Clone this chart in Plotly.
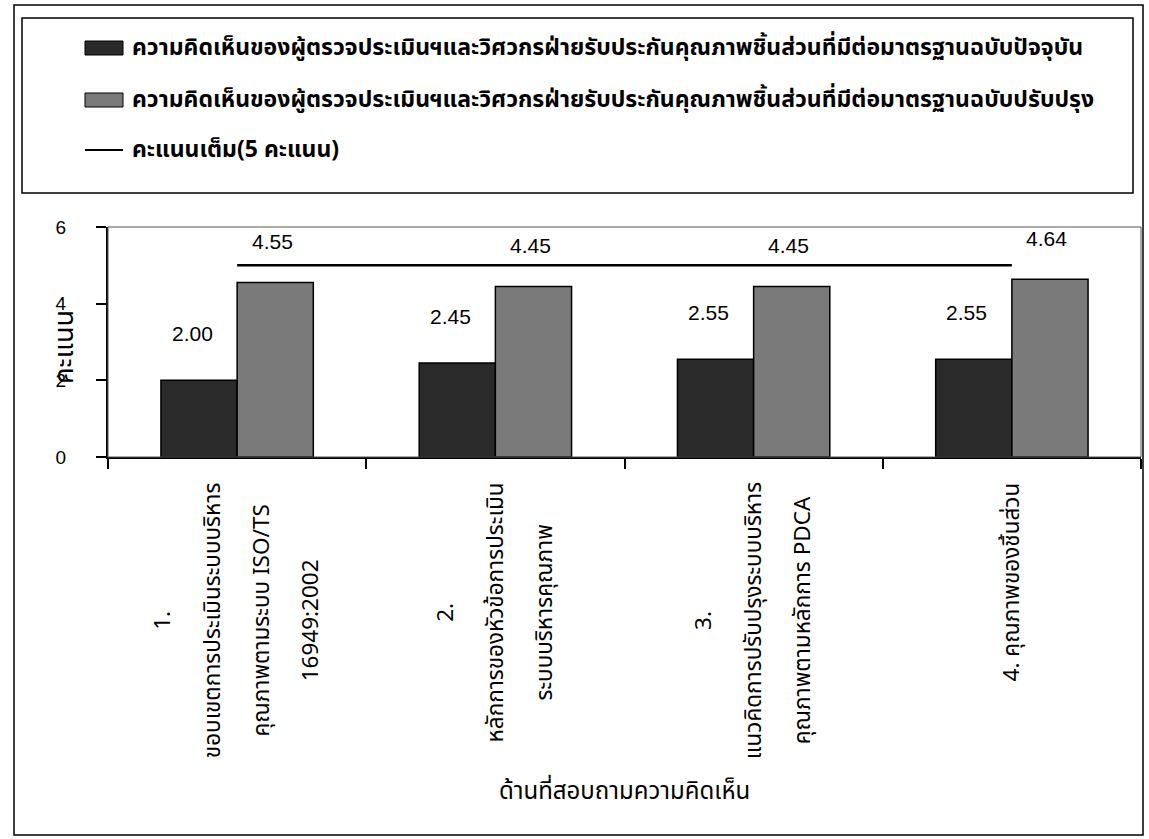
import plotly.graph_objects as go

# ---------------- data ----------------
label_lines = [
    ["1.", "ขอบเขตการประเมินระบบบริหาร", "คุณภาพตามระบบ ISO/TS", "16949:2002"],
    ["2.", "หลักการของหัวข้อการประเมิน", "ระบบบริหารคุณภาพ"],
    ["3.", "แนวคิดการปรับปรุงระบบบริหาร", "คุณภาพตามหลักการ PDCA"],
    ["4. คุณภาพของชิ้นส่วน"],
]
categories = ["<br>".join(l) for l in label_lines]

current_scores = [2.00, 2.45, 2.55, 2.55]
revised_scores = [4.55, 4.45, 4.45, 4.64]
full_score = [5, 5, 5, 5]

name_current = "ความคิดเห็นของผู้ตรวจประเมินฯและวิศวกรฝ่ายรับประกันคุณภาพชิ้นส่วนที่มีต่อมาตรฐานฉบับปัจจุบัน"
name_revised = "ความคิดเห็นของผู้ตรวจประเมินฯและวิศวกรฝ่ายรับประกันคุณภาพชิ้นส่วนที่มีต่อมาตรฐานฉบับปรับปรุง"
name_full = "คะแนนเต็ม(5 คะแนน)"
x_title = "ด้านที่สอบถามความคิดเห็น"
y_title = "คะแนน"
y_ticks = [0, 2, 4, 6]

# ---------------- styling ----------------
W, H = 1149, 839
PL, PR, PT, PB = 108, 1141, 227, 457   # plot area in pixels
DARK = "#2a2a2a"
GRAY = "#7a7a7a"
THAI = "Noto Sans Thai, Tahoma, DejaVu Sans, sans-serif"
NUM = "Liberation Sans, Arial, sans-serif"


def px_x(px):
    return (px - PL) / (PR - PL)


def px_y(py):
    return (PB - py) / (PB - PT)


def spaced(text, size):
    # wrap each line in a span so the annotation's (larger) base font sets line spacing
    return "<br>".join(f"<span style='font-size:{size}px'>{t}</span>" for t in text.split("<br>"))


fig = go.Figure()
fig.add_trace(go.Bar(
    x=categories, y=current_scores, name=name_current,
    marker=dict(color=DARK, line=dict(color="black", width=1.5)),
    showlegend=False,
))
fig.add_trace(go.Bar(
    x=categories, y=revised_scores, name=name_revised,
    marker=dict(color=GRAY, line=dict(color="black", width=1.5)),
    showlegend=False,
))
fig.add_trace(go.Scatter(
    x=categories, y=full_score, name=name_full, mode="lines",
    line=dict(color="black", width=2.5), showlegend=False,
))

annotations = []
# value labels
for c, v in zip(categories, current_scores):
    annotations.append(dict(x=c, y=v, xref="x", yref="y", text=f"{v:.2f}",
                            showarrow=False, yshift=47, xshift=-45,
                            xanchor="center", yanchor="middle",
                            font=dict(family=NUM, size=21, color="black")))
for c, v in zip(categories, revised_scores):
    annotations.append(dict(x=c, y=v, xref="x", yref="y", text=f"{v:.2f}",
                            showarrow=False, yshift=41, xshift=35,
                            xanchor="center", yanchor="middle",
                            font=dict(family=NUM, size=21, color="black")))
# category labels (rotated)
for c in categories:
    annotations.append(dict(x=c, xref="x", y=px_y(480), yref="paper",
                            text=spaced(c, 22.5), textangle=-90, showarrow=False,
                            xanchor="center", yanchor="top", align="center",
                            font=dict(family=THAI, size=38, color="black")))
# axis titles
annotations.append(dict(x=0.5, xref="paper", y=px_y(792), yref="paper",
                        text=x_title, showarrow=False,
                        xanchor="center", yanchor="middle",
                        font=dict(family=THAI, size=24, color="black")))
annotations.append(dict(x=px_x(64), xref="paper", y=px_y(347), yref="paper",
                        text=y_title, textangle=-90, showarrow=False,
                        xanchor="center", yanchor="middle",
                        font=dict(family=THAI, size=27, color="black")))
# legend texts
for name, py in [(name_current, 48), (name_revised, 100), (name_full, 150)]:
    annotations.append(dict(x=px_x(130), xref="paper", y=px_y(py), yref="paper",
                            text=f"<b>{name}</b>", showarrow=False,
                            xanchor="left", yanchor="middle",
                            font=dict(family=THAI, size=23, color="black")))

shapes = [
    # outer frame
    dict(type="rect", xref="paper", yref="paper", x0=px_x(14), x1=px_x(1143),
         y0=px_y(5), y1=px_y(835), line=dict(color="black", width=1.5)),
    # legend box
    dict(type="rect", xref="paper", yref="paper", x0=px_x(22), x1=px_x(1133),
         y0=px_y(18), y1=px_y(193), line=dict(color="black", width=1.5)),
    # legend swatches
    dict(type="rect", xref="paper", yref="paper", x0=px_x(85), x1=px_x(123),
         y0=px_y(41), y1=px_y(55), fillcolor=DARK, line=dict(color="black", width=1)),
    dict(type="rect", xref="paper", yref="paper", x0=px_x(85), x1=px_x(123),
         y0=px_y(93), y1=px_y(107), fillcolor=GRAY, line=dict(color="black", width=1)),
    dict(type="line", xref="paper", yref="paper", x0=px_x(85), x1=px_x(123),
         y0=px_y(150), y1=px_y(150), line=dict(color="black", width=2)),
    # plot area frame
    dict(type="rect", xref="paper", yref="paper", x0=0, x1=1, y0=0, y1=1,
         line=dict(color="#555555", width=1)),
]

fig.update_layout(
    width=W, height=H,
    margin=dict(l=PL, r=W - PR, t=PT, b=H - PB, pad=0),
    paper_bgcolor="white", plot_bgcolor="white",
    barmode="group", bargap=0.41, bargroupgap=0,
    showlegend=False,
    annotations=annotations, shapes=shapes,
    xaxis=dict(showline=True, linecolor="black", linewidth=2,
               ticks="outside", tickson="boundaries", ticklen=10,
               tickwidth=2, tickcolor="black", showticklabels=False,
               showgrid=False, zeroline=False),
    yaxis=dict(range=[0, 6], tickvals=y_ticks, showline=True,
               linecolor="black", linewidth=2, ticks="outside", ticklen=10,
               tickwidth=2, tickcolor="black", showgrid=False, zeroline=False,
               ticklabelstandoff=26,
               tickfont=dict(family=NUM, size=19, color="black")),
)

fig.write_html("out.html")
